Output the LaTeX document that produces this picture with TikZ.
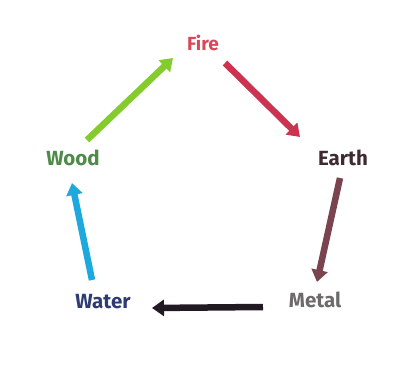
\documentclass[tikz,border=0pt]{standalone}
\usepackage{fontspec}
\setmainfont{Fira Sans}
\usepackage{tikz}
\usetikzlibrary{arrows.meta,positioning,calc}
\definecolor{firetxt}{HTML}{D8475A}
\definecolor{woodtxt}{HTML}{4E8A48}
\definecolor{earthtxt}{HTML}{3F2A30}
\definecolor{watertxt}{HTML}{2E3C74}
\definecolor{metaltxt}{HTML}{6E6A6C}
\definecolor{greenarr}{HTML}{84CC2C}
\definecolor{redarr}{HTML}{CC3350}
\definecolor{brownarr}{HTML}{7A4350}
\definecolor{blackarr}{HTML}{221A22}
\definecolor{cyanarr}{HTML}{1EA9DE}
\tikzstyle{element} = [font=\bfseries\fontsize{20.5}{24}\selectfont, inner sep=2pt]
\tikzstyle{line} = [draw, line width=6.5pt, -{Triangle[width=16pt,length=12pt]}]

\begin{document}
\begin{tikzpicture}[x=1pt, y=-1pt]
    \useasboundingbox (0,0) rectangle (408,367);
    \node [element, text=firetxt, font=\bfseries\fontsize{19}{22}\selectfont] (fire) at (203,43) {Fire};
    \node [element, text=earthtxt] (earth) at (343,158) {Earth};
    \node [element, text=metaltxt] (metal) at (315,300) {Metal};
    \node [element, text=watertxt] (water) at (103,302) {Water};
    \node [element, text=woodtxt] (wood) at (73,158) {Wood};

    \path [line, greenarr] ($(wood)+(14,-18)$) -- ($(fire)+(-30,15)$);
    \path [line, redarr] ($(fire)+(22,20)$) -- ($(earth)+(-43,-21)$);
    \path [line, brownarr] ($(earth)+(-3,20)$) -- ($(metal)+(2,-18)$);
    \path [line, blackarr] ($(metal)+(-52,7)$) -- ($(water)+(49,6)$);
    \path [line, cyanarr] ($(water)+(-11,-22)$) -- ($(wood)+(-1,25)$);
\end{tikzpicture}
\end{document}
